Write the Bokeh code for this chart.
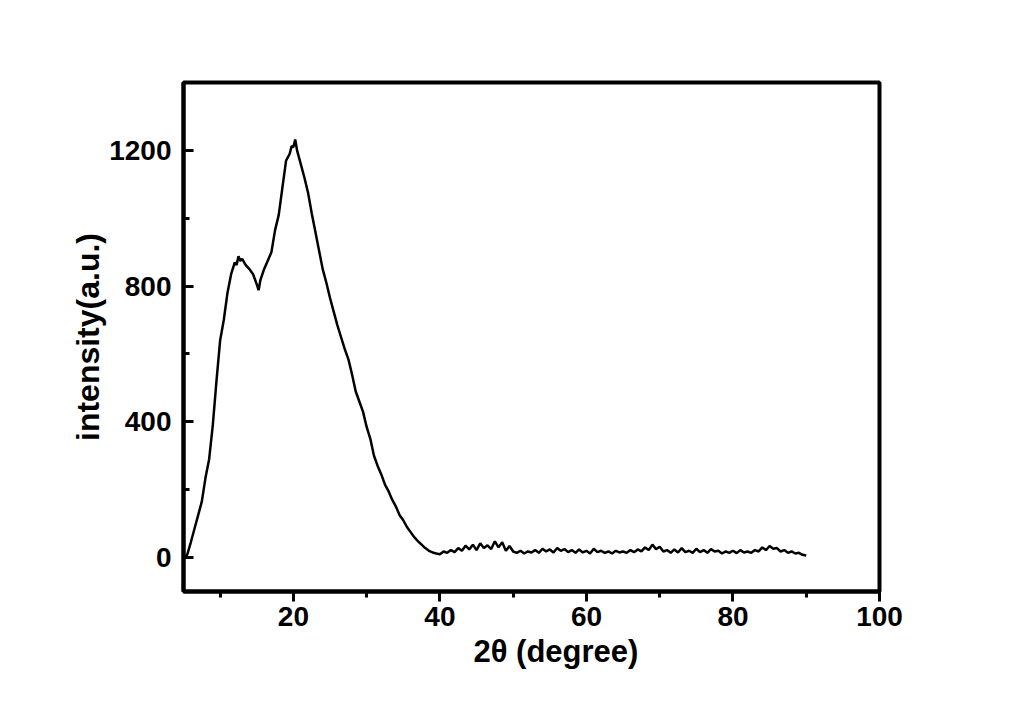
from bokeh.plotting import figure
from bokeh.models import Range1d, FixedTicker, Title
from bokeh.embed import file_html
from bokeh.resources import INLINE

# 2-theta positions (degree) and intensity (a.u.)
two_theta = [
    5.0, 5.5, 6.0, 6.5, 7.0, 7.5, 8.0, 8.5, 9.0, 9.5,
    10.0, 10.5, 11.0, 11.5, 12.0, 12.25, 12.5, 12.75, 13.0, 13.5,
    14.0, 14.5, 15.0, 15.25, 15.5, 16.0, 16.5, 17.0, 17.5, 18.0,
    18.5, 19.0, 19.5, 19.75, 20.0, 20.25, 20.5, 21.0, 21.5, 22.0,
    22.5, 23.0, 23.5, 24.0, 24.5, 25.0, 25.5, 26.0, 26.5, 27.0,
    27.5, 28.0, 28.5, 29.0, 29.5, 30.0, 30.5, 31.0, 31.5, 32.0,
    32.5, 33.0, 33.5, 34.0, 34.5, 35.0, 35.5, 36.0, 36.5, 37.0,
    37.5, 38.0, 38.5, 39.0, 39.5, 40.0, 40.5, 41.0, 41.5, 42.0,
    42.5, 43.0, 43.5, 44.0, 44.5, 45.0, 45.5, 46.0, 46.5, 47.0,
    47.5, 48.0, 48.5, 49.0, 49.5, 50.0, 50.5, 51.0, 51.5, 52.0,
    52.5, 53.0, 53.5, 54.0, 54.5, 55.0, 55.5, 56.0, 56.5, 57.0,
    57.5, 58.0, 58.5, 59.0, 59.5, 60.0, 60.5, 61.0, 61.5, 62.0,
    62.5, 63.0, 63.5, 64.0, 64.5, 65.0, 65.5, 66.0, 66.5, 67.0,
    67.5, 68.0, 68.5, 69.0, 69.5, 70.0, 70.5, 71.0, 71.5, 72.0,
    72.5, 73.0, 73.5, 74.0, 74.5, 75.0, 75.5, 76.0, 76.5, 77.0,
    77.5, 78.0, 78.5, 79.0, 79.5, 80.0, 80.5, 81.0, 81.5, 82.0,
    82.5, 83.0, 83.5, 84.0, 84.5, 85.0, 85.5, 86.0, 86.5, 87.0,
    87.5, 88.0, 88.5, 89.0, 89.5, 90.0,
]
intensity = [
    0, 8, 45, 85, 125, 165, 235, 290, 390, 520,
    640, 700, 780, 835, 870, 862, 888, 874, 880, 862,
    850, 835, 805, 788, 818, 850, 875, 900, 965, 1010,
    1090, 1170, 1190, 1212, 1210, 1232, 1200, 1160, 1120, 1075,
    1015, 960, 905, 850, 810, 765, 725, 685, 650, 615,
    585, 540, 490, 460, 430, 385, 350, 300, 270, 245,
    215, 195, 170, 150, 125, 110, 90, 75, 60, 48,
    38, 28, 20, 15, 12, 10, 18, 14, 22, 16,
    28, 20, 35, 24, 38, 22, 42, 28, 36, 25,
    48, 30, 45, 20, 34, 18, 14, 20, 12, 18,
    15, 22, 14, 26, 18, 24, 15, 28, 20, 25,
    16, 22, 14, 24, 15, 20, 12, 26, 16, 20,
    14, 18, 12, 20, 15, 18, 14, 22, 16, 24,
    18, 30, 22, 38, 25, 32, 18, 22, 14, 24,
    15, 28, 16, 20, 14, 26, 16, 22, 14, 25,
    18, 20, 12, 18, 14, 20, 13, 22, 15, 18,
    14, 22, 18, 30, 22, 34, 26, 28, 18, 22,
    14, 18, 12, 14, 8, 6,
]

x_major = [20, 40, 60, 80, 100]
x_minor = [10, 30, 50, 70, 90]
y_major = [0, 400, 800, 1200]
y_minor = [200, 600, 1000]

FONT = "Liberation Sans"

p = figure(width=1000, height=690,
           x_range=Range1d(5, 100), y_range=Range1d(-100, 1400),
           output_backend="svg", toolbar_location=None,
           min_border_left=183, min_border_right=121,
           min_border_top=82, min_border_bottom=99)

p.line(two_theta, intensity, line_color="black", line_width=2.5)

p.grid.visible = False
p.outline_line_color = "black"
p.outline_line_width = 4
p.background_fill_color = "white"
p.border_fill_color = "white"

xa = p.xaxis[0]
xa.ticker = FixedTicker(ticks=x_major, minor_ticks=x_minor)
xa.axis_line_width = 4
xa.major_tick_line_width = 3
xa.minor_tick_line_width = 3
xa.major_tick_in = 0
xa.major_tick_out = 10
xa.minor_tick_in = 0
xa.minor_tick_out = 6
xa.major_label_standoff = 5
xa.major_label_text_font = FONT
xa.major_label_text_font_style = "bold"
xa.major_label_text_font_size = "28px"
xa.major_label_text_color = "black"

ya = p.yaxis[0]
ya.ticker = FixedTicker(ticks=y_major, minor_ticks=y_minor)
ya.axis_line_width = 4
ya.major_tick_line_width = 3
ya.minor_tick_line_width = 3
ya.major_tick_in = 10
ya.major_tick_out = 0
ya.minor_tick_in = 6
ya.minor_tick_out = 0
ya.major_label_standoff = 12
ya.major_label_text_font = FONT
ya.major_label_text_font_style = "bold"
ya.major_label_text_font_size = "28px"
ya.major_label_text_color = "black"
ya.axis_label = "intensity(a.u.)"
ya.axis_label_text_font = FONT
ya.axis_label_text_font_style = "bold"
ya.axis_label_text_font_size = "32px"
ya.axis_label_text_color = "black"
ya.axis_label_standoff = 0

xtitle = Title(text="2θ (degree)", align="left", offset=290,
               text_font=FONT, text_font_style="bold",
               text_font_size="31px", text_color="black", standoff=7)
p.add_layout(xtitle, "below")

open("out.html", "w").write(file_html(p, INLINE))
